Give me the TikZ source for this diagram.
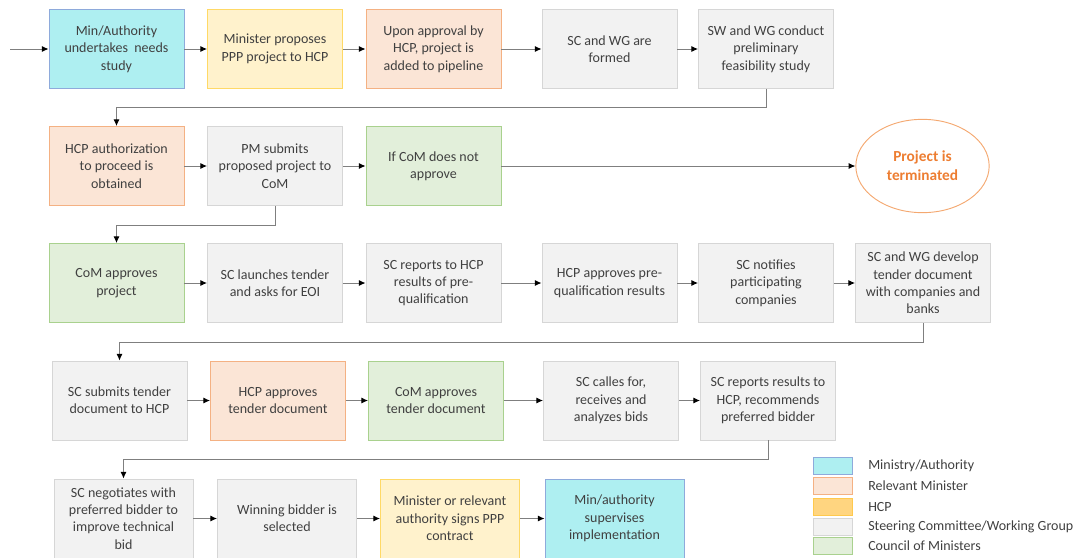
\documentclass[tikz,border=0pt]{standalone}
\usepackage{fontspec}
\setmainfont{Carlito}
\usetikzlibrary{arrows.meta,shapes.geometric}
\definecolor{txt}{HTML}{404040}
\definecolor{cyanF}{HTML}{AEEFF1}\definecolor{cyanD}{HTML}{8EAADB}
\definecolor{yelF}{HTML}{FFF2CC}\definecolor{yelD}{HTML}{FFD966}
\definecolor{pchF}{HTML}{FBE5D6}\definecolor{pchD}{HTML}{F4B183}
\definecolor{gryF}{HTML}{F2F2F2}\definecolor{gryD}{HTML}{D6D6D6}
\definecolor{grnF}{HTML}{E2EFDA}\definecolor{grnD}{HTML}{A9D18E}
\definecolor{hcpF}{HTML}{FFD580}\definecolor{hcpD}{HTML}{FFC94D}
\definecolor{orgD}{HTML}{F4A870}\definecolor{orgT}{HTML}{ED7D31}
\definecolor{lineC}{HTML}{7F7F7F}
\begin{document}
\begin{tikzpicture}[x=0.75pt,y=-0.75pt,
  box/.style={rectangle,draw,line width=0.7pt,minimum width=101.25pt,minimum height=59.25pt,
    inner sep=2pt,align=center,text=txt,font=\fontsize{10.5}{13}\selectfont},
  wbox/.style={box,minimum width=104.25pt},
  mins/.style={fill=cyanF,draw=cyanD},
  relm/.style={fill=yelF,draw=yelD},
  hcp/.style={fill=pchF,draw=pchD},
  scwg/.style={fill=gryF,draw=gryD},
  com/.style={fill=grnF,draw=grnD},
  arr/.style={draw=lineC,line width=0.7pt,-{Latex[length=5pt,width=4.5pt,color=black]}},
  sw/.style={rectangle,line width=0.7pt,minimum width=29.25pt,minimum height=12.75pt,inner sep=0pt},
  lt/.style={anchor=west,text=txt,font=\fontsize{10.5}{13}\selectfont,inner sep=0pt}]
\useasboundingbox (0,0) rectangle (1085,557);
% row 1
\node[box,mins] (b1) at (116.5,49) {Min/Authority\\undertakes\ \ needs\\study};
\node[box,relm] (b2) at (275,49) {Minister proposes\\PPP project to HCP};
\node[box,hcp] (b3) at (433.5,49) {Upon approval by\\HCP, project is\\added to pipeline};
\node[box,scwg] (b4) at (609.5,49) {SC and WG are\\formed};
\node[box,scwg] (b5) at (766,49) {SW and WG conduct\\preliminary\\feasibility study};
% row 2
\node[box,hcp] (b6) at (116.5,166) {HCP authorization\\to proceed is\\obtained};
\node[box,scwg] (b7) at (275,166) {PM submits\\proposed project to\\CoM};
\node[box,com] (b8) at (433.5,166) {If CoM does not\\approve};
\node[ellipse,draw=orgD,line width=0.7pt,minimum width=100pt,minimum height=70pt,inner sep=0pt,
  align=center,text=orgT,font=\fontsize{11.5}{14}\selectfont\bfseries] (e) at (922.5,166) {Project is\\terminated};
% row 3
\node[box,com] (b9) at (116.5,283) {CoM approves\\project};
\node[box,scwg] (b10) at (275,283) {SC launches tender\\and asks for EOI};
\node[box,scwg] (b11) at (433.5,283) {SC reports to HCP\\results of pre-\\qualification};
\node[box,scwg] (b12) at (609.5,283) {HCP approves pre-\\qualification results};
\node[box,scwg] (b13) at (766,283) {SC notifies\\participating\\companies};
\node[box,scwg] (b14) at (923,283) {SC and WG develop\\tender document\\with companies and\\banks};
% row 4
\node[box,scwg] (b15) at (119.5,400.5) {SC submits tender\\document to HCP};
\node[box,hcp] (b16) at (278,400.5) {HCP approves\\tender document};
\node[box,com] (b17) at (436,400.5) {CoM approves\\tender document};
\node[box,scwg] (b18) at (611,400.5) {SC calles for,\\receives and\\analyzes bids};
\node[box,scwg] (b19) at (768,400.5) {SC reports results to\\HCP, recommends\\preferred bidder};
% row 5
\node[wbox,scwg] (b20) at (123.5,518.5) {SC negotiates with\\preferred bidder to\\improve technical\\bid};
\node[wbox,scwg] (b21) at (287,518.5) {Winning bidder is\\selected};
\node[wbox,relm] (b22) at (450,518.5) {Minister or relevant\\authority signs PPP\\contract};
\node[wbox,mins] (b23) at (614.5,518.5) {Min/authority\\supervises\\implementation};
% connectors
\coordinate (start) at (10,49);
\draw[arr] (start) -- (b1);
\draw[arr] (b1) -- (b2);
\draw[arr] (b2) -- (b3);
\draw[arr] (b3) -- (b4);
\draw[arr] (b4) -- (b5);
\draw[arr] (b5.south) -- ++(0,18.5) -| (b6.north);
\draw[arr] (b6) -- (b7);
\draw[arr] (b7) -- (b8);
\draw[arr] (b8) -- (e);
\draw[arr] (b7.south) -- ++(0,19) -| (b9.north);
\draw[arr] (b9) -- (b10);
\draw[arr] (b10) -- (b11);
\draw[arr] (b11) -- (b12);
\draw[arr] (b12) -- (b13);
\draw[arr] (b13) -- (b14);
\draw[arr] (b14.south) -- ++(0,19) -| (b15.north);
\draw[arr] (b15) -- (b16);
\draw[arr] (b16) -- (b17);
\draw[arr] (b17) -- (b18);
\draw[arr] (b18) -- (b19);
\draw[arr] (b19.south) -- ++(0,19) -| (b20.north);
\draw[arr] (b20) -- (b21);
\draw[arr] (b21) -- (b22);
\draw[arr] (b22) -- (b23);
% legend
\node[sw,fill=cyanF,draw=cyanD] (l1) at (832.5,466) {};
\node[sw,fill=pchF,draw=pchD] (l2) at (832.5,486) {};
\node[sw,fill=hcpF,draw=hcpD] (l3) at (832.5,506.5) {};
\node[sw,fill=gryF,draw=gryD] (l4) at (832.5,527) {};
\node[sw,fill=grnF,draw=grnD] (l5) at (832.5,546) {};
\node[lt] (t1) at (868,466) {Ministry/Authority};
\node[lt] (t2) at (868,486) {Relevant Minister};
\node[lt] (t3) at (868,506.5) {HCP};
\node[lt] (t4) at (868,527) {Steering Committee/Working Group};
\node[lt] (t5) at (868,546) {Council of Ministers};
\end{tikzpicture}
\end{document}
